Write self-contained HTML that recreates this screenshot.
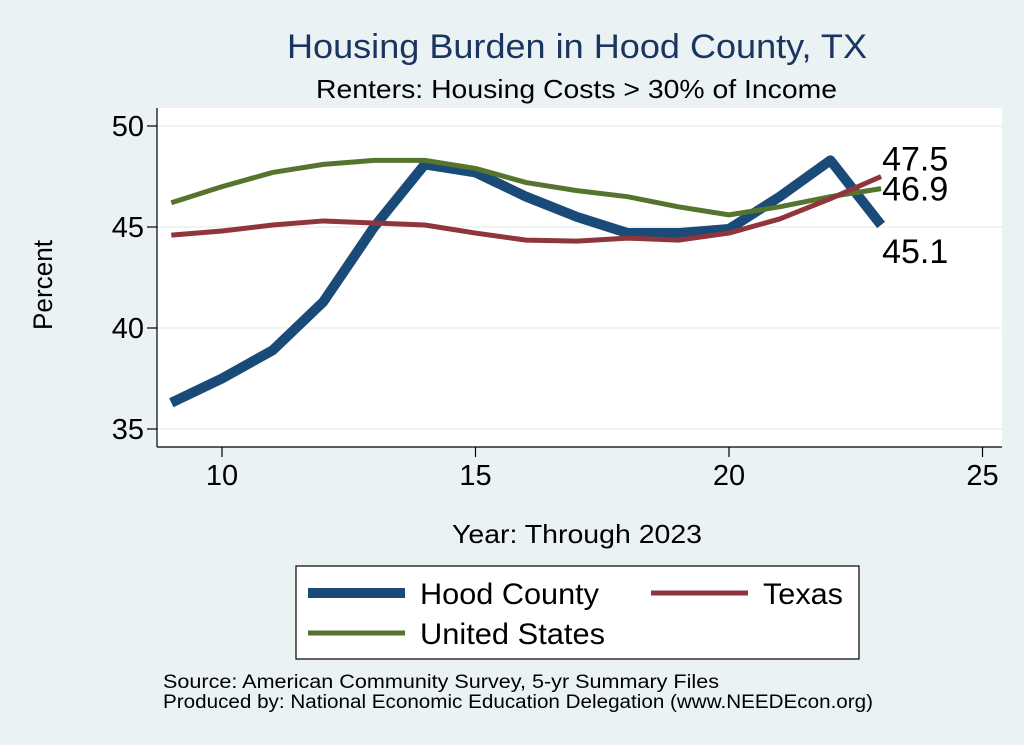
<!DOCTYPE html>
<html><head><meta charset="utf-8"><style>
body{margin:0;background:#eaf2f3;}
svg{display:block;font-family:"Liberation Sans",sans-serif;}
</style></head><body>
<svg id="chart" width="1024" height="745" viewBox="0 0 1024 745">
<rect x="0" y="0" width="1024" height="745" fill="#eaf2f3"/>
<text x="287" y="58" font-size="34" fill="#1a3560" textLength="580" lengthAdjust="spacingAndGlyphs">Housing Burden in Hood County, TX</text>
<text x="316" y="98" font-size="26" fill="#000" textLength="521" lengthAdjust="spacingAndGlyphs">Renters: Housing Costs &gt; 30% of Income</text>
<rect x="157" y="108" width="845" height="339" fill="#fff"/>
<g id="grid"></g><g id="axes"></g><g id="series"></g><g id="labels"></g>
<text x="52" y="285" font-size="27" text-anchor="middle" transform="rotate(-90 52 285)" textLength="90" lengthAdjust="spacingAndGlyphs">Percent</text>
<text x="452" y="543" font-size="26" textLength="250" lengthAdjust="spacingAndGlyphs">Year: Through 2023</text>
<g>
<rect x="296" y="566" width="563" height="93" fill="#fff" stroke="#000" stroke-width="1.2"/>
<g><line x1="308" y1="593" x2="405" y2="593" stroke="#1a4a78" stroke-width="10"/><text x="420" y="604" font-size="30" textLength="179" lengthAdjust="spacingAndGlyphs">Hood County</text></g>
<g><line x1="651" y1="593" x2="748" y2="593" stroke="#90353b" stroke-width="5"/><text x="763" y="604" font-size="30" textLength="80" lengthAdjust="spacingAndGlyphs">Texas</text></g>
<g><line x1="308" y1="633" x2="405" y2="633" stroke="#55752f" stroke-width="5"/><text x="420" y="644" font-size="30" textLength="185" lengthAdjust="spacingAndGlyphs">United States</text></g>
</g>
<text x="163" y="688" font-size="19" textLength="556" lengthAdjust="spacingAndGlyphs">Source: American Community Survey, 5-yr Summary Files</text>
<text x="163" y="708" font-size="19" textLength="710" lengthAdjust="spacingAndGlyphs">Produced by: National Economic Education Delegation (www.NEEDEcon.org)</text>
</svg>
<script>
const years=[9,10,11,12,13,14,15,16,17,18,19,20,21,22,23];
const hood=[36.3,37.5,38.9,41.3,45.0,48.1,47.7,46.5,45.5,44.7,44.7,44.9,46.5,48.3,45.1];
const texas=[44.6,44.8,45.1,45.3,45.2,45.1,44.7,44.35,44.3,44.45,44.35,44.7,45.4,46.4,47.5];
const us=[46.2,47.0,47.7,48.1,48.3,48.3,47.9,47.2,46.8,46.5,46.0,45.6,46.0,46.5,46.9];
const xTicks=[10,15,20,25];
const yTicks=[35,40,45,50];
const NS="http://www.w3.org/2000/svg";
function xs(v){return 222+(v-10)*50.7;}
function ys(v){return 126+(50-v)*20.2;}
function mk(tag,attrs,parent){const e=document.createElementNS(NS,tag);for(const k in attrs)e.setAttribute(k,attrs[k]);parent.appendChild(e);return e;}
const grid=document.getElementById('grid'),axes=document.getElementById('axes'),series=document.getElementById('series'),labels=document.getElementById('labels');
yTicks.forEach(t=>{
 const g=mk('line',{x1:157,x2:1002,y1:ys(t),y2:ys(t),stroke:'#e8eff2','stroke-width':1.5},grid);
 
 
 mk('line',{x1:147,x2:157,y1:ys(t),y2:ys(t),stroke:'#000','stroke-width':1.2},axes);
 const tx=mk('text',{x:144,y:ys(t)+10,'font-size':29,'text-anchor':'end'},axes);
 tx.textContent=t;
 
 
});
mk('line',{x1:157,x2:157,y1:108,y2:447,stroke:'#000','stroke-width':1.2},axes);
mk('line',{x1:157,x2:1002,y1:447,y2:447,stroke:'#000','stroke-width':1.2},axes);
xTicks.forEach(t=>{
 mk('line',{x1:xs(t),x2:xs(t),y1:447,y2:457,stroke:'#000','stroke-width':1.2},axes);
 const tx=mk('text',{x:xs(t),y:485,'font-size':29,'text-anchor':'middle'},axes);
 tx.textContent=t;
 
 
});
function line(data,color,w,name){
 const d=data.map((v,i)=>(i?'L':'M')+xs(years[i])+' '+ys(v)).join(' ');
 const p=mk('path',{d:d,fill:'none',stroke:color,'stroke-width':w,'stroke-linejoin':'round'},series);
 
 
}
line(hood,'#1a4a78',10,'series-hood-county');
line(us,'#55752f',5,'series-united-states');
line(texas,'#90353b',5,'series-texas');
const last=years.length-1;
[[texas[last],ys(texas[last])-6,'label-texas-last'],[us[last],ys(us[last])+12,'label-us-last'],[hood[last],ys(hood[last])+38,'label-hood-last']].forEach(a=>{
 const t=mk('text',{x:xs(years[last])+1,y:a[1],'font-size':34},labels);
 t.textContent=a[0].toFixed(1);
 
 
});
</script>
</body></html>
